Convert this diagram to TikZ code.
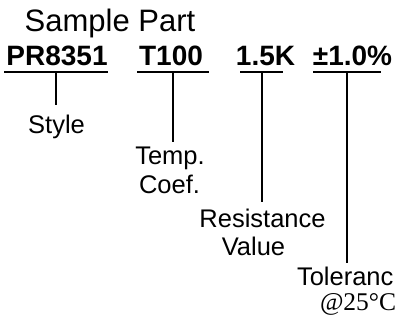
\documentclass[tikz,border=0pt]{standalone}
\usepackage{fontspec}
\setmainfont{Liberation Sans}
\newfontfamily\serifface{Liberation Serif}
\begin{document}
\begin{tikzpicture}[x=1pt,y=-1pt,
  txt/.style={inner sep=0pt,outer sep=0pt,anchor=base,font=\fontsize{25.5}{29}\selectfont},
  part/.style={inner sep=0pt,outer sep=0pt,anchor=base,font=\fontsize{28}{32}\selectfont\bfseries},
  rule/.style={line width=1.8pt}]
\useasboundingbox (0,0) rectangle (398,322);
% title
\node[txt,font=\fontsize{31}{35}\selectfont] (title) at (110,31) {Sample Part};
% part codes
\node[part] (style code) at (57,65) {PR8351};
\node[part] (tc code) at (171,65) {T100};
\node[part] (res code) at (265.5,65) {1.5K};
\node[part] (tol code) at (352.5,65) {±1.0\%};
% underlines
\coordinate (u1a) at (4,72);   \coordinate (u1b) at (108,72);
\coordinate (u2a) at (137,72); \coordinate (u2b) at (209,72);
\coordinate (u3a) at (240,72); \coordinate (u3b) at (283,72);
\coordinate (u4a) at (313,72); \coordinate (u4b) at (381,72);
\draw[rule] (u1a) -- (u1b);
\draw[rule] (u2a) -- (u2b);
\draw[rule] (u3a) -- (u3b);
\draw[rule] (u4a) -- (u4b);
% leader tops and ends
\coordinate (v1) at (56,72);  \coordinate (e1) at (56,105);
\coordinate (v2) at (173,72); \coordinate (e2) at (173,142);
\coordinate (v3) at (262,72); \coordinate (e3) at (262,202);
\coordinate (v4) at (347,72); \coordinate (e4) at (347,263);
\draw[rule] (v1) -- (e1);
\draw[rule] (v2) -- (e2);
\draw[rule] (v3) -- (e3);
\draw[rule] (v4) -- (e4);
% labels
\node[txt] (style) at (56.5,133) {Style};
\node[txt] (temp) at (170,164) {Temp.};
\node[txt] (coef) at (169.5,193) {Coef.};
\node[txt] (resistance) at (262.5,227) {Resistance};
\node[txt] (value) at (253.5,255) {Value};
\node[txt,anchor=base west] (tolerance) at (297,285) {Toleranc};
\node[txt,anchor=base west,font=\fontsize{25.5}{29}\serifface] (temp25) at (320,310) {@25°C};
\end{tikzpicture}
\end{document}
